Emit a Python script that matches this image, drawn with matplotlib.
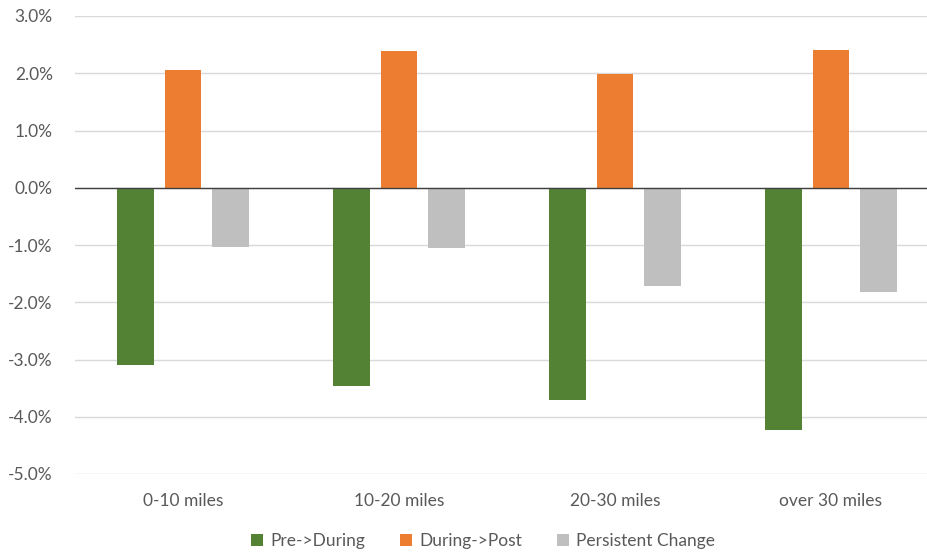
import numpy as np
import matplotlib
matplotlib.use('Agg')
import matplotlib.pyplot as plt
from matplotlib.ticker import PercentFormatter

plt.rcParams['font.family'] = ['Lato', 'DejaVu Sans']
plt.rcParams['axes.unicode_minus'] = False

categories = ['0-10 miles', '10-20 miles', '20-30 miles', 'over 30 miles']
pre_during = [-3.09, -3.46, -3.70, -4.23]
during_post = [2.06, 2.38, 1.99, 2.41]
persistent = [-1.03, -1.05, -1.71, -1.82]
series_names = ['Pre->During', 'During->Post', 'Persistent Change']
colors = ['#548235', '#ED7D31', '#BFBFBF']

fig = plt.figure(figsize=(9.28, 5.54), dpi=100)
# plot area runs slightly past the right edge, as in the original
ax = fig.add_axes([75 / 928, 1 - 474 / 554, 864 / 928, 458 / 554])

x = np.arange(len(categories))
width = 0.171
step = 0.218
for i, (vals, name, c) in enumerate(zip([pre_during, during_post, persistent], series_names, colors)):
    ax.bar(x + (i - 1) * step, vals, width, color=c, label=name, zorder=3)

ax.set_xlim(-0.5, 3.5)
ax.set_ylim(-5, 3)
ax.set_yticks(np.arange(-5, 3.1, 1))
ax.yaxis.set_major_formatter(PercentFormatter(decimals=1))
ax.grid(axis='y', color='#D9D9D9', linewidth=1, zorder=0)
ax.axhline(0, color='#404040', linewidth=1, zorder=4)
for s in ax.spines.values():
    s.set_visible(False)
ax.tick_params(length=0, labelsize=12.5, colors='#595959')
ax.tick_params(axis='y', pad=16)
ax.set_xticks(x)
ax.set_xticklabels(categories)
ax.tick_params(axis='x', pad=14)

fig.legend(loc='center', bbox_to_anchor=(483 / 928, 1 - 541 / 554), ncol=3, frameon=False,
           fontsize=12.5, handlelength=0.7, handleheight=0.7, handletextpad=0.4,
           columnspacing=2.0, labelcolor='#595959')

fig.savefig('out.png', dpi=100)
